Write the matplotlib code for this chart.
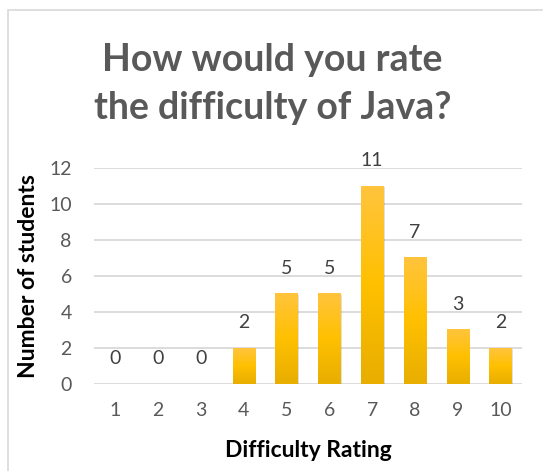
import numpy as np
import matplotlib.pyplot as plt
from matplotlib.patches import Rectangle
from matplotlib.colors import LinearSegmentedColormap

ratings = ["1", "2", "3", "4", "5", "6", "7", "8", "9", "10"]
students = [0, 0, 0, 2, 5, 5, 11, 7, 3, 2]
y_ticks = [0, 2, 4, 6, 8, 10, 12]

plt.rcParams['font.family'] = ['Lato', 'DejaVu Sans']

fig = plt.figure(figsize=(5.43, 4.71), dpi=100)
W, H = 543, 471
ax = fig.add_axes([94 / W, 1 - 384 / H, (522 - 94) / W, (384 - 168) / H])

# chart border
fig.patches.append(Rectangle((8 / W, -0.01), 1.0, 1 - 10 / H + 0.01, transform=fig.transFigure,
                             fill=False, edgecolor='#D9D9D9', linewidth=1.2))

x = np.arange(len(ratings))
bars = ax.bar(x, students, width=0.52, color='#FFC000', zorder=3)

# vertical gradient on each bar
grad = np.linspace(0, 1, 100).reshape(-1, 1)
cmap = LinearSegmentedColormap.from_list('g', ['#E8AE00', '#FFC000', '#FFC43D'])
for b in bars:
    if b.get_height() <= 0:
        continue
    x0, w, h = b.get_x(), b.get_width(), b.get_height()
    # soft shadow
    ax.add_patch(Rectangle((x0 + 0.03, 0), w, h - 0.05, color='#000000', alpha=0.12, zorder=2, linewidth=0))
    ax.imshow(grad, extent=(x0, x0 + w, 0, h), origin='lower', cmap=cmap, aspect='auto', zorder=3)

for xi, v in zip(x, students):
    ax.text(xi, v + 1.4, str(v), ha='center', va='center', fontsize=14, color='#404040')

ax.set_xlim(-0.5, len(ratings) - 0.5)
ax.set_ylim(0, 12)
ax.set_yticks(y_ticks)
ax.set_xticks(x)
ax.set_xticklabels(ratings)
ax.tick_params(axis='both', length=0, labelsize=14, labelcolor='#595959')
ax.tick_params(axis='x', pad=13)
ax.tick_params(axis='y', pad=16)
ax.grid(axis='y', color='#D9D9D9', linewidth=1.3, zorder=0)
ax.set_axisbelow(True)
for s in ax.spines.values():
    s.set_visible(False)

ax.set_xlabel("Difficulty Rating", fontsize=16.5, fontweight='bold', color='black', labelpad=15)
ax.set_ylabel("Number of students", fontsize=16.5, fontweight='bold', color='black', labelpad=7)

fig.text(0.5 + 1 / W, 1 - 84 / H, "How would you rate\nthe difficulty of Java?", ha='center', va='center',
         fontsize=27, fontweight='bold', color='#595959', linespacing=1.5)

fig.savefig("out.png", dpi=100)
